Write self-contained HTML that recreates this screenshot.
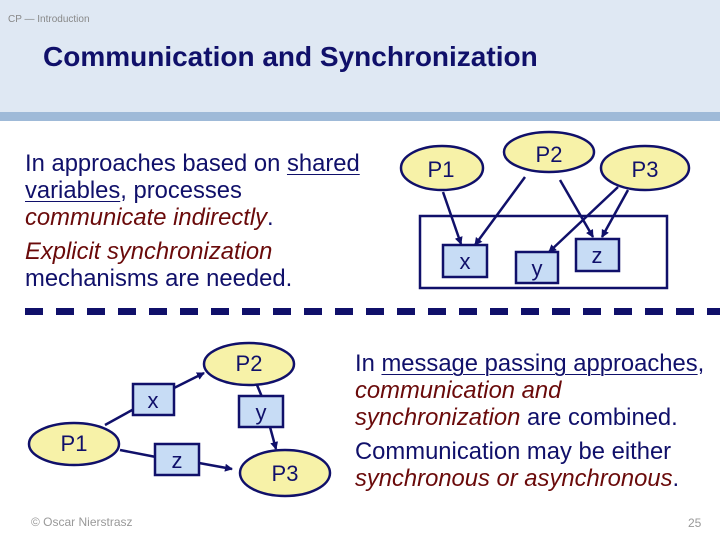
<!DOCTYPE html>
<html><head><meta charset="utf-8"><style>
body{margin:0;width:720px;height:540px;overflow:hidden;background:#fff;position:relative;font-family:"Liberation Sans",sans-serif}
.hdr{position:absolute;left:0;top:0;width:720px;height:112px;background:#dfe8f3}
.band{position:absolute;left:0;top:112px;width:720px;height:9px;background:#9fbad8}
.t{position:absolute;white-space:nowrap}
.p{font-size:23.8px;color:#10106a;line-height:27px}
.r{color:#6a0a0a;font-style:italic}
u{text-decoration-thickness:1px;text-underline-offset:3px}
</style></head><body>
<div class="hdr"></div><div class="band"></div>
<div class="t" style="left:8px;top:14px;font-size:10px;color:#888">CP — Introduction</div>
<div class="t" style="left:43px;top:41px;font-size:28px;font-weight:bold;color:#10106a">Communication and Synchronization</div>
<div class="t p" style="left:25px;top:150px">In approaches based on <u>shared</u><br><u>variables</u>, processes<br><span class="r">communicate indirectly</span>.</div>
<div class="t p" style="left:25px;top:238px"><span class="r">Explicit synchronization</span><br>mechanisms are needed.</div>
<div class="t p" style="left:355px;top:350px"><span>In <u>message passing approaches</u>,</span><br><span class="r">communication and</span><br><span class="r">synchronization</span> are combined.</div>
<div class="t p" style="left:355px;top:438px">Communication may be either<br><span class="r">synchronous or asynchronous</span>.</div>
<div class="t" style="left:31px;top:515px;font-size:12px;color:#999">© Oscar Nierstrasz</div>
<div class="t" style="left:688px;top:516px;font-size:12px;color:#999">25</div>
<svg width="720" height="540" style="position:absolute;left:0;top:0" font-family="Liberation Sans, sans-serif">
<defs><marker id="a" markerWidth="8" markerHeight="8" refX="7" refY="4" orient="auto" markerUnits="userSpaceOnUse"><path d="M0,0 L8,4 L0,8 z" fill="#10106a"/></marker></defs>
<line x1="25" y1="311.5" x2="720" y2="311.5" stroke="#10106a" stroke-width="7" stroke-dasharray="18,13"/>
<g stroke="#10106a" stroke-width="2.5">
<rect x="420" y="216" width="247" height="72" fill="none"/>
<ellipse cx="442" cy="168" rx="41" ry="22" fill="#f7f2a8"/>
<ellipse cx="549" cy="152" rx="45" ry="20" fill="#f7f2a8"/>
<ellipse cx="645" cy="168" rx="44" ry="22" fill="#f7f2a8"/>
<rect x="443" y="245" width="44" height="32" fill="#c7dcf5"/>
<rect x="516" y="252" width="42" height="31" fill="#c7dcf5"/>
<rect x="576" y="239" width="43" height="32" fill="#c7dcf5"/>
<line x1="443" y1="192" x2="461" y2="244" marker-end="url(#a)"/>
<line x1="525" y1="177" x2="475" y2="245" marker-end="url(#a)"/>
<line x1="560" y1="180" x2="593" y2="237" marker-end="url(#a)"/>
<line x1="618" y1="187" x2="549" y2="252" marker-end="url(#a)"/>
<line x1="628" y1="190" x2="602" y2="237" marker-end="url(#a)"/>
<line x1="105" y1="425" x2="134" y2="409"/>
<line x1="174" y1="388" x2="204" y2="373" marker-end="url(#a)"/>
<line x1="257" y1="385" x2="262" y2="397"/>
<line x1="270" y1="427" x2="276" y2="449" marker-end="url(#a)"/>
<line x1="120" y1="450" x2="156" y2="457"/>
<line x1="199" y1="463" x2="232" y2="469" marker-end="url(#a)"/>
<ellipse cx="249" cy="364" rx="45" ry="21" fill="#f7f2a8"/>
<ellipse cx="74" cy="444" rx="45" ry="21" fill="#f7f2a8"/>
<ellipse cx="285" cy="473" rx="45" ry="23" fill="#f7f2a8"/>
<rect x="133" y="384" width="41" height="31" fill="#c7dcf5"/>
<rect x="239" y="396" width="44" height="31" fill="#c7dcf5"/>
<rect x="155" y="444" width="44" height="31" fill="#c7dcf5"/>
</g>
<g fill="#10106a" font-size="22" text-anchor="middle">
<text x="441" y="177">P1</text><text x="549" y="162">P2</text><text x="645" y="177">P3</text>
<text x="465" y="269">x</text><text x="537" y="276">y</text><text x="597" y="263">z</text>
<text x="249" y="371">P2</text><text x="74" y="451">P1</text><text x="285" y="481">P3</text>
<text x="153" y="408">x</text><text x="261" y="420">y</text><text x="177" y="468">z</text>
</g>
</svg>
</body></html>
